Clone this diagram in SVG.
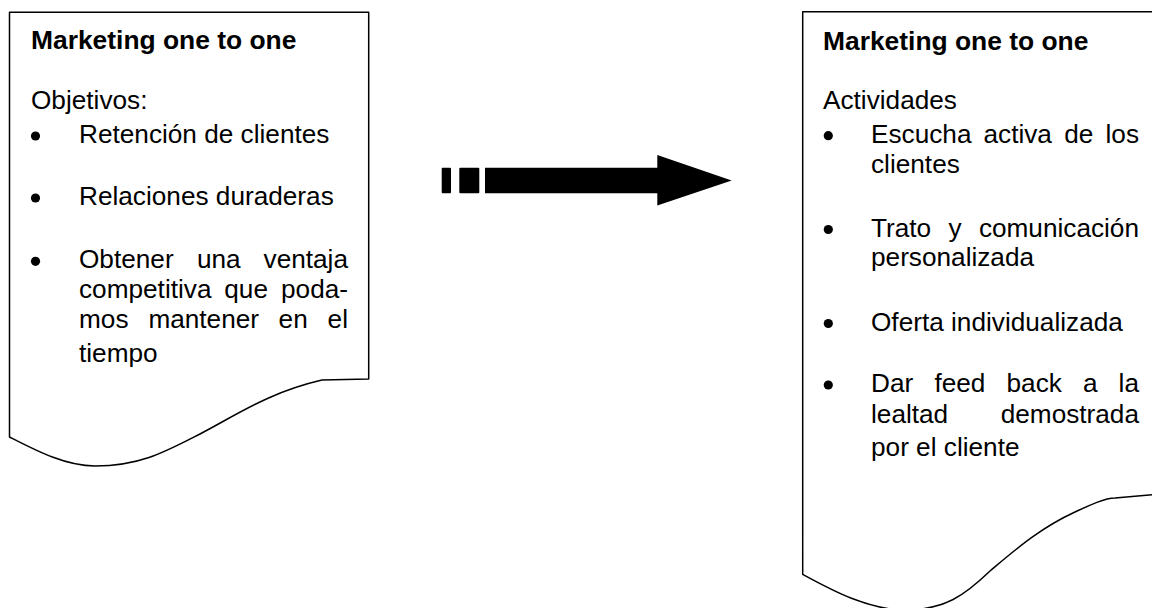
<svg xmlns="http://www.w3.org/2000/svg" width="1152" height="608" viewBox="0 0 1152 608">
<style>
.box{fill:#fff;stroke:#000;stroke-width:1.5;stroke-linejoin:round}
.t{font-family:"Liberation Sans",Arial,sans-serif;font-size:26.2px;fill:#000}
.b{font-weight:bold;font-size:26.4px}
.e{text-anchor:end}
.dot{fill:#000}
.arrow{fill:#000}
</style>
<rect width="1152" height="608" fill="#fff"/>
<g id="node-objetivos">
<path class="box" d="M9.5,12.3 L368.7,12.3 L368.7,379 L322,380 C270,392 240,413 200,434 C165,452 140,466 95,466 C65,466 35,450 9.5,437 Z"/>
<text class="t b" x="31" y="49.3">Marketing one to one</text>
<text class="t" x="31" y="109.3">Objetivos:</text>
<circle class="dot" cx="35.5" cy="136" r="4.6"/>
<text class="t" x="79" y="142.7">Retención de clientes</text>
<circle class="dot" cx="35.5" cy="198" r="4.6"/>
<text class="t" x="79" y="204.5">Relaciones duraderas</text>
<circle class="dot" cx="35.5" cy="261.3" r="4.6"/>
<text class="t" y="268.3"><tspan x="79">Obtener</tspan> <tspan x="196.9">una</tspan></text>
<text class="t e" x="348" y="268.3">ventaja</text>
<text class="t" y="298.3"><tspan x="79">competitiva</tspan> <tspan x="224.3">que</tspan></text>
<text class="t e" x="348" y="298.3">poda-</text>
<text class="t" y="328.3"><tspan x="79">mos</tspan> <tspan x="148.4">mantener</tspan> <tspan x="278.6">en</tspan></text>
<text class="t e" x="348" y="328.3">el</text>
<text class="t" x="79" y="361.7">tiempo</text>
</g>
<g id="node-actividades">
<path class="box" d="M802.7,11.7 L1162,11.7 L1162,494 L1115,498 C1105,498 1090,505 1075,512 C1040,528 1015,550 990,571 C965,595 945,610 905,610 C870,610 835,592 802.7,574.3 Z"/>
<text class="t b" x="823" y="50">Marketing one to one</text>
<text class="t" x="823" y="109">Actividades</text>
<circle class="dot" cx="828.3" cy="135.7" r="4.6"/>
<text class="t" y="142.7"><tspan x="871">Escucha</tspan> <tspan x="983.5">activa</tspan> <tspan x="1064.2">de</tspan></text>
<text class="t e" x="1139" y="142.7">los</text>
<text class="t" x="871" y="172.7">clientes</text>
<circle class="dot" cx="828.3" cy="229.5" r="4.6"/>
<text class="t" y="236.7"><tspan x="871">Trato</tspan> <tspan x="948.6">y</tspan></text>
<text class="t e" x="1139" y="236.7">comunicación</text>
<text class="t" x="871" y="266.3">personalizada</text>
<circle class="dot" cx="828.3" cy="323.5" r="4.6"/>
<text class="t" x="871" y="331">Oferta individualizada</text>
<circle class="dot" cx="828.3" cy="385" r="4.6"/>
<text class="t" y="391.7"><tspan x="871">Dar</tspan> <tspan x="934.4">feed</tspan> <tspan x="1006.5">back</tspan> <tspan x="1082.9">a</tspan></text>
<text class="t e" x="1139" y="391.7">la</text>
<text class="t" x="871" y="422.7">lealtad</text>
<text class="t e" x="1139" y="422.7">demostrada</text>
<text class="t" x="871" y="456">por el cliente</text>
</g>
<g id="connectors">
<rect class="arrow" x="441.7" y="167.7" width="9.3" height="25.6" rx="1"/>
<rect class="arrow" x="459.3" y="167.7" width="20" height="25.6" rx="1"/>
<path class="arrow" d="M485,167.7 L657.3,167.7 L657.3,155 L731.7,180.6 L657.3,205.5 L657.3,193.3 L485,193.3 Z"/>
</g>
</svg>
